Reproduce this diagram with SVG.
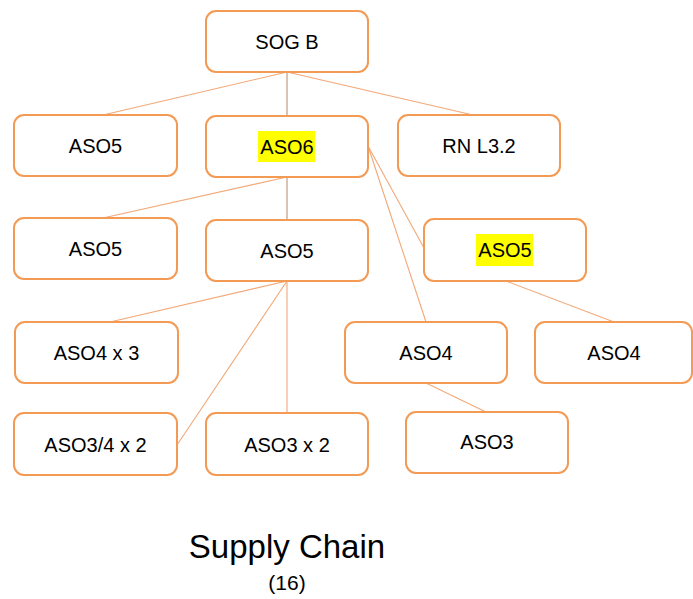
<svg xmlns="http://www.w3.org/2000/svg" width="693" height="599" viewBox="0 0 693 599">
<style>
.box{fill:#fff;stroke:#F39A55;stroke-width:2}
.t{font-family:"Liberation Sans",Arial,sans-serif;font-size:20px;fill:#000;text-anchor:middle}
.c{stroke:#F2A878;stroke-width:1.1;fill:none}
.v{stroke:#B8937A;stroke-width:1.1;fill:none}
.hl{fill:#FFFF00}
</style>
<rect width="693" height="599" fill="#fff"/>
<g id="connectors">
<line class="c" x1="287" y1="72" x2="103" y2="115"/>
<line class="v" x1="287" y1="72" x2="287" y2="116"/>
<line class="c" x1="287" y1="72" x2="473" y2="115"/>
<line class="c" x1="287" y1="177" x2="103" y2="218"/>
<line class="v" x1="287" y1="177" x2="287" y2="220"/>
<line class="c" x1="368" y1="146" x2="424" y2="248"/>
<line class="c" x1="368" y1="146" x2="426" y2="322"/>
<line class="c" x1="506" y1="281" x2="614" y2="322"/>
<line class="c" x1="287" y1="281" x2="110" y2="322"/>
<line class="c" x1="287" y1="281" x2="177" y2="445"/>
<line class="c" x1="287" y1="281" x2="287" y2="413"/>
<line class="c" x1="426" y1="383" x2="486" y2="412"/>
</g>
<g id="n-sogb"><rect class="box" x="206" y="11" width="162" height="61" rx="10"/><text class="t" x="287" y="49">SOG B</text></g>
<g id="n-aso5-a"><rect class="box" x="14" y="115" width="163" height="61" rx="10"/><text class="t" x="95.5" y="153">ASO5</text></g>
<g id="n-aso6"><rect class="box" x="206" y="116" width="162" height="61" rx="10"/><rect class="hl" x="258" y="131" width="57" height="31"/><text class="t" x="287" y="154">ASO6</text></g>
<g id="n-rnl32"><rect class="box" x="398" y="115" width="162" height="61" rx="10"/><text class="t" x="479" y="153">RN L3.2</text></g>
<g id="n-aso5-b"><rect class="box" x="14" y="218" width="163" height="61" rx="10"/><text class="t" x="95.5" y="256">ASO5</text></g>
<g id="n-aso5-c"><rect class="box" x="206" y="220" width="162" height="61" rx="10"/><text class="t" x="287" y="258">ASO5</text></g>
<g id="n-aso5-d"><rect class="box" x="424" y="219" width="162" height="62" rx="10"/><rect class="hl" x="476" y="234" width="57" height="32"/><text class="t" x="505" y="257">ASO5</text></g>
<g id="n-aso4x3"><rect class="box" x="15" y="322" width="163" height="61" rx="10"/><text class="t" x="96.5" y="360">ASO4 x 3</text></g>
<g id="n-aso4-a"><rect class="box" x="345" y="322" width="162" height="61" rx="10"/><text class="t" x="426" y="360">ASO4</text></g>
<g id="n-aso4-b"><rect class="box" x="535" y="322" width="157" height="61" rx="10"/><text class="t" x="614" y="360">ASO4</text></g>
<g id="n-aso34x2"><rect class="box" x="14" y="413" width="163" height="62" rx="10"/><text class="t" x="95.5" y="452">ASO3/4 x 2</text></g>
<g id="n-aso3x2"><rect class="box" x="206" y="413" width="162" height="62" rx="10"/><text class="t" x="287" y="452">ASO3 x 2</text></g>
<g id="n-aso3"><rect class="box" x="406" y="412" width="162" height="61" rx="10"/><text class="t" x="487" y="449">ASO3</text></g>
<g id="title"><text class="t" x="287" y="558" style="font-size:33px">Supply Chain</text><text class="t" x="287" y="590" style="font-size:21px">(16)</text></g>
</svg>
